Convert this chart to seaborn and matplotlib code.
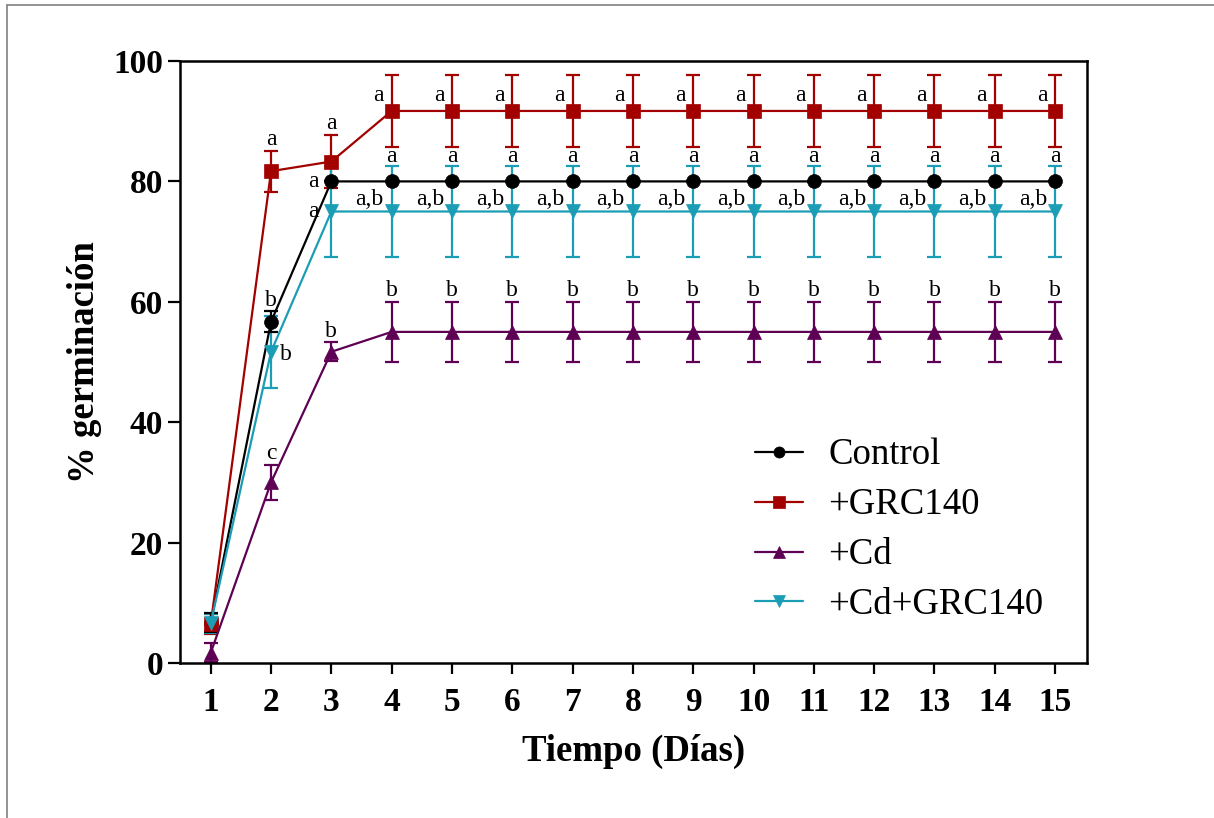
import numpy as np
import pandas as pd
import matplotlib
matplotlib.use("Agg")
import matplotlib.pyplot as plt
from matplotlib.lines import Line2D
import seaborn as sns

# ---------------- data ----------------
days = list(range(1, 16))
series_names = ["Control", "+GRC140", "+Cd", "+Cd+GRC140"]

control_mean = [6.7, 56.7, 80, 80, 80, 80, 80, 80, 80, 80, 80, 80, 80, 80, 80]
control_sd = [1.6, 1.7, 0, 0, 0, 0, 0, 0, 0, 0, 0, 0, 0, 0, 0]

grc_mean = [6.5, 81.7, 83.3, 91.7, 91.7, 91.7, 91.7, 91.7, 91.7, 91.7, 91.7, 91.7, 91.7, 91.7, 91.7]
grc_sd = [1.6, 3.4, 4.4, 6.0, 6.0, 6.0, 6.0, 6.0, 6.0, 6.0, 6.0, 6.0, 6.0, 6.0, 6.0]

cd_mean = [1.7, 30.0, 51.7, 55, 55, 55, 55, 55, 55, 55, 55, 55, 55, 55, 55]
cd_sd = [1.6, 2.9, 1.6, 5.0, 5.0, 5.0, 5.0, 5.0, 5.0, 5.0, 5.0, 5.0, 5.0, 5.0, 5.0]

cdgrc_mean = [6.6, 51.7, 75, 75, 75, 75, 75, 75, 75, 75, 75, 75, 75, 75, 75]
cdgrc_sd = [1.6, 6.0, 7.6, 7.6, 7.6, 7.6, 7.6, 7.6, 7.6, 7.6, 7.6, 7.6, 7.6, 7.6, 7.6]

# significance letters per day
control_letters = ["", "b", "a"] + ["a"] * 12
grc_letters = ["", "a", "a"] + ["a"] * 12
cd_letters = ["", "c", "b"] + ["b"] * 12
cdgrc_letters = ["", "b", "a"] + ["a,b"] * 12

x_ticks = list(range(1, 16))
y_ticks = [0, 20, 40, 60, 80, 100]
x_label = "Tiempo (Días)"
y_label = "% germinación"

# ---------------- styling ----------------
colors = {"Control": "#000000", "+GRC140": "#A30000",
          "+Cd": "#5E0053", "+Cd+GRC140": "#1B9DB5"}
markers = {"Control": "o", "+GRC140": "s", "+Cd": "^", "+Cd+GRC140": "v"}


def placement(name, i):
    if name == "Control":
        if i == 1:
            return "above"
        if i == 2:
            return "left"
        return "overpoint"
    if name == "+GRC140":
        return "above" if i < 3 else "upleft_a"
    if name == "+Cd":
        return "above"
    if name == "+Cd+GRC140":
        if i == 1:
            return "right"
        if i == 2:
            return "left"
        return "upleft_ab"


sns.set_theme(style="ticks")
plt.rcParams["font.family"] = ["Liberation Serif", "DejaVu Serif"]
plt.rcParams["text.color"] = "black"
plt.rcParams["axes.labelcolor"] = "black"
plt.rcParams["xtick.color"] = "black"
plt.rcParams["ytick.color"] = "black"

fig = plt.figure(figsize=(12.14, 8.18), dpi=100)
ax = fig.add_axes([180 / 1214, 1 - 663 / 818, (1087 - 180) / 1214, (663 - 61) / 818])

data = {
    "Control": (control_mean, control_sd, control_letters),
    "+GRC140": (grc_mean, grc_sd, grc_letters),
    "+Cd": (cd_mean, cd_sd, cd_letters),
    "+Cd+GRC140": (cdgrc_mean, cdgrc_sd, cdgrc_letters),
}

rows = []
for name in series_names:
    m, s, _ = data[name]
    for d, mv, sv in zip(days, m, s):
        rows.append({"day": d, "mean": mv, "sd": sv, "series": name})
df = pd.DataFrame(rows)

# error bars first (underneath), then lines + markers in series order
for z, name in enumerate(["+Cd", "+GRC140", "+Cd+GRC140", "Control"]):
    sub = df[df["series"] == name]
    c = colors[name]
    ax.errorbar(sub["day"], sub["mean"], yerr=sub["sd"], fmt="none", ecolor=c,
                elinewidth=1.6, capsize=5, capthick=1.6, zorder=2 + 0.1 * z)

for z, name in enumerate(series_names):
    sub = df[df["series"] == name]
    c = colors[name]
    sns.lineplot(data=sub, x="day", y="mean", ax=ax, color=c, marker=markers[name],
                 markersize=10, markeredgecolor=c, markeredgewidth=0.5,
                 linewidth=1.6, label=name, errorbar=None, zorder=3 + z)

# letters
for name in series_names:
    m, s, letters = data[name]
    for i, lab in enumerate(letters):
        if not lab:
            continue
        mode = placement(name, i)
        d = days[i]
        if mode == "above":
            xy, off = (d, m[i] + s[i]), (0, 4)
        elif mode == "overpoint":
            xy, off = (d, m[i]), (0, 14)
        elif mode == "left":
            xy, off = (d, m[i]), (-13, -4)
        elif mode == "right":
            xy, off = (d, m[i]), (11, -6)
        elif mode == "upleft_a":
            xy, off = (d, m[i]), (-9.4, 7.3)
        else:
            xy, off = (d, m[i]), (-16, 5)
        ax.annotate(lab, xy=xy, xytext=off, textcoords="offset points",
                    ha="center", va="baseline", fontsize=17, color="black", zorder=20)

ax.set_xlim(0.49, 15.53)
ax.set_ylim(0, 100)
ax.set_xticks(x_ticks)
ax.set_yticks(y_ticks)
ax.set_xticklabels([str(v) for v in x_ticks], fontsize=24, fontweight="bold")
ax.set_yticklabels([str(v) for v in y_ticks], fontsize=24, fontweight="bold")
ax.tick_params(axis="x", direction="out", length=8, width=1.6, pad=9, colors="black")
ax.tick_params(axis="y", direction="out", length=9, width=1.6, pad=3, colors="black")
for sp in ax.spines.values():
    sp.set_visible(True)
    sp.set_linewidth(1.8)
    sp.set_color("black")

ax.set_xlabel(x_label, fontsize=26.5, fontweight="bold", labelpad=12, color="black")
ax.set_ylabel(y_label, fontsize=26.5, fontweight="bold", labelpad=8, color="black")
ax.grid(False)

handles, labels = ax.get_legend_handles_labels()
hmap = dict(zip(labels, handles))
leg = ax.legend([hmap[n] for n in series_names], series_names, loc="upper left",
                bbox_to_anchor=(755 / 1214, 1 - 438 / 818), bbox_transform=fig.transFigure,
                frameon=False, fontsize=26.5, handlelength=1.3, handletextpad=0.7,
                labelspacing=0.42, borderpad=0, borderaxespad=0, markerscale=0.8)
for t in leg.get_texts():
    t.set_color("black")

# outer frame (partial, as in reference)
fig.add_artist(Line2D([6.5 / 1214, 6.5 / 1214], [0, 1 - 4.5 / 818], transform=fig.transFigure,
                      color="#808080", linewidth=1.2))
fig.add_artist(Line2D([6.5 / 1214, 1], [1 - 4.5 / 818, 1 - 4.5 / 818], transform=fig.transFigure,
                      color="#808080", linewidth=1.2))

fig.savefig("out.png", dpi=100, facecolor="white")
